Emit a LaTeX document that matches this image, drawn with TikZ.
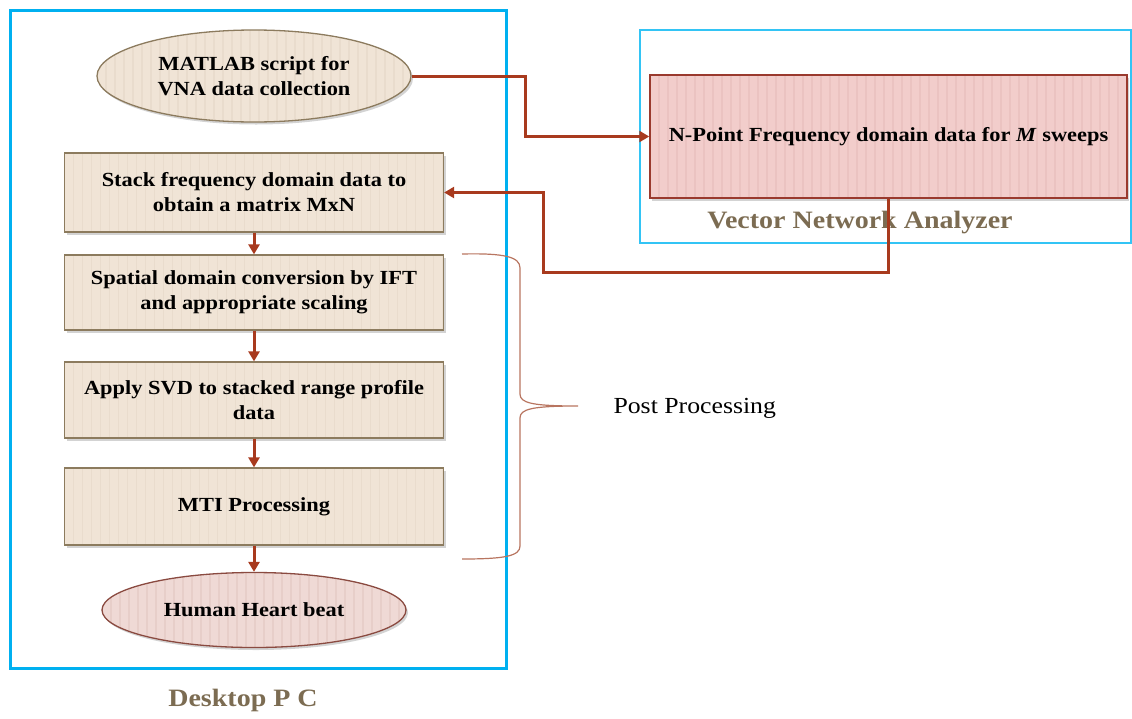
\documentclass[tikz,border=0pt]{standalone}
\usepackage{fontspec}
\setmainfont[FakeStretch=1.12]{Liberation Serif}
\usetikzlibrary{shapes.geometric,shadows,arrows.meta}

\definecolor{pcblue}{HTML}{00B0F0}
\definecolor{vnablue}{HTML}{33C4F5}
\definecolor{beigefill}{HTML}{F0E4D6}
\definecolor{beigestripe}{HTML}{E9DCCD}
\definecolor{beigeline}{HTML}{8C7B5E}
\definecolor{pinkfill}{HTML}{F2CDCB}
\definecolor{pinkstripe}{HTML}{EBC3C1}
\definecolor{pinkline}{HTML}{9A3A2E}
\definecolor{rosefill}{HTML}{EFD9D5}
\definecolor{rosestripe}{HTML}{E7CEC9}
\definecolor{roseline}{HTML}{8A4A40}
\definecolor{arrowred}{HTML}{A83A1E}
\definecolor{bracecol}{HTML}{B87560}
\definecolor{labelcol}{HTML}{7C6C52}

\tikzset{
  stripes/.style={path picture={
      \foreach \i in {0,...,55}{
        \draw[#1,line width=1.5pt]
          ([xshift=\i*9pt]path picture bounding box.south west) --
          ([xshift=\i*9pt]path picture bounding box.north west);}}},
  shade/.style={drop shadow={opacity=0.35,shadow xshift=2pt,shadow yshift=-2.5pt}},
  stepbox/.style={rectangle,draw=beigeline,line width=1.3pt,fill=beigefill,
    stripes=beigestripe,shade,minimum width=379pt,inner sep=0pt},
  capsule/.style={ellipse,draw=#1,line width=1.3pt,shade,inner sep=0pt},
  boxtext/.style={align=center,font=\bfseries\fontsize{20}{25}\selectfont},
  arr/.style={draw=arrowred,line width=3pt,
    -{Triangle[length=10pt,width=11pt]}},
  grouplabel/.style={font=\bfseries\fontsize{25}{30}\selectfont,text=labelcol}
}

\begin{document}
\begin{tikzpicture}[x=1pt,y=-1pt]
\useasboundingbox (0,0) rectangle (1132,718);

% equipment frames
\draw[pcblue,line width=3pt] (10,10) rectangle (506,668);
\draw[vnablue,line width=1.4pt] (640,30) rectangle (1131,243);

% processing chain on the desktop PC
\node[capsule=beigeline,fill=beigefill,stripes=beigestripe,
      minimum width=314pt,minimum height=92pt] (matlab) at (254,76) {};
\node[boxtext] (matlabtxt) at (matlab) {MATLAB script for\\VNA data collection};

\node[stepbox,minimum height=79pt,boxtext] (s1) at (254,192.5)
  {Stack frequency domain data to\\obtain a matrix MxN};
\node[stepbox,minimum height=75pt,boxtext] (s2) at (254,292.5)
  {Spatial domain conversion by IFT\\and appropriate scaling};
\node[stepbox,minimum height=76pt,boxtext] (s3) at (254,400)
  {Apply SVD to stacked range profile\\data};
\node[stepbox,minimum height=77pt,boxtext] (s4) at (254,506.5)
  {MTI Processing};

\node[capsule=roseline,fill=rosefill,stripes=rosestripe,
      minimum width=304pt,minimum height=75pt] (heart) at (254,610) {};
\node[boxtext] (hearttxt) at (heart) {Human Heart beat};

% VNA measurement block
\node[rectangle,draw=pinkline,line width=1.5pt,fill=pinkfill,stripes=pinkstripe,
      shade,minimum width=477pt,minimum height=123pt,inner sep=0pt,boxtext]
  (npt) at (888.5,136.5) {N-Point Frequency domain data for \textit{M} sweeps};

% group labels
\node[grouplabel] (vnalabel) at (860,223) {Vector Network Analyzer};
\node[grouplabel] (pclabel) at (243,700) {Desktop P C};

% connectors
\coordinate (out) at (525,76);
\coordinate (back) at (543,272);
\draw[arr] (matlab.east) -- (out) |- (npt.west);
\draw[arr] (npt.south) |- (back) |- (s1.east);
\draw[arr] (s1.south) -- (s2.north);
\draw[arr] (s2.south) -- (s3.north);
\draw[arr] (s3.south) -- (s4.north);
\draw[arr] (s4.south) -- (heart.north);

% brace around the post-processing steps
\coordinate (btop) at (462,254);
\coordinate (btip) at (578,406);
\coordinate (bbot) at (462,559);
\draw[bracecol,line width=1.2pt]
  (btop) .. controls (505,253) and (520,257) .. (520,268)
  -- (520,394) .. controls (520,403) and (532,406) .. (btip)
  .. controls (532,406) and (520,409) .. (520,418)
  -- (520,546) .. controls (520,556) and (505,559) .. (bbot);
\node[font=\fontsize{23}{28}\selectfont,anchor=west] (post) at (610,408)
  {Post Processing};
\end{tikzpicture}
\end{document}
